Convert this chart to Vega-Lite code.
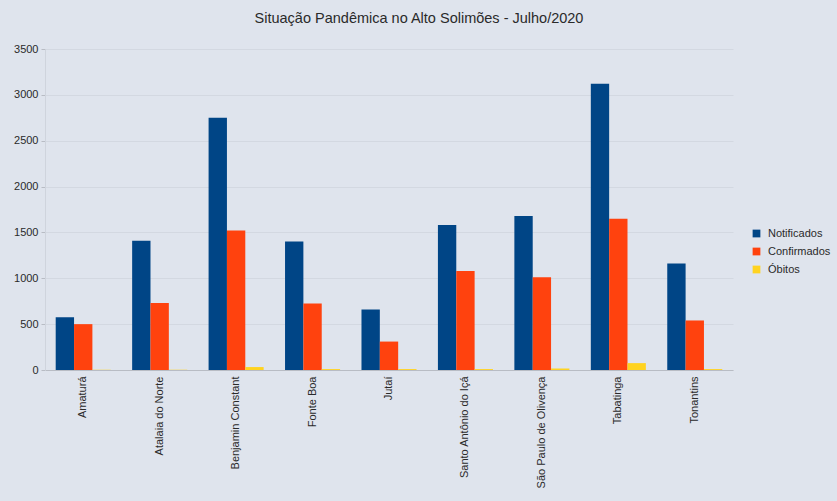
{
  "$schema": "https://vega.github.io/schema/vega-lite/v6.json",
  "autosize": "none",
  "width": 688,
  "height": 321,
  "padding": {"left": 45, "top": 49, "right": 104, "bottom": 131},
  "background": "#dfe4ed",
  "config": {
    "view": {"stroke": null},
    "font": "Liberation Sans",
    "axis": {"labelFont": "Liberation Sans", "labelColor": "#2a2a2a", "labelFontSize": 11}
  },
  "title": {
    "text": "Situação Pandêmica no Alto Solimões - Julho/2020",
    "fontSize": 14.5,
    "fontWeight": "normal",
    "color": "#2a2a2a",
    "font": "Liberation Sans",
    "anchor": "middle",
    "dx": 30,
    "offset": 17
  },
  "data": {
    "values": [
      {"municipio": "Amaturá", "serie": "Notificados", "valor": 575},
      {"municipio": "Amaturá", "serie": "Confirmados", "valor": 500},
      {"municipio": "Amaturá", "serie": "Óbitos", "valor": 3},
      {"municipio": "Atalaia do Norte", "serie": "Notificados", "valor": 1410},
      {"municipio": "Atalaia do Norte", "serie": "Confirmados", "valor": 730},
      {"municipio": "Atalaia do Norte", "serie": "Óbitos", "valor": 3},
      {"municipio": "Benjamin Constant", "serie": "Notificados", "valor": 2750},
      {"municipio": "Benjamin Constant", "serie": "Confirmados", "valor": 1520},
      {"municipio": "Benjamin Constant", "serie": "Óbitos", "valor": 32},
      {"municipio": "Fonte Boa", "serie": "Notificados", "valor": 1400},
      {"municipio": "Fonte Boa", "serie": "Confirmados", "valor": 725},
      {"municipio": "Fonte Boa", "serie": "Óbitos", "valor": 10},
      {"municipio": "Jutaí", "serie": "Notificados", "valor": 660},
      {"municipio": "Jutaí", "serie": "Confirmados", "valor": 310},
      {"municipio": "Jutaí", "serie": "Óbitos", "valor": 10},
      {"municipio": "Santo Antônio do Içá", "serie": "Notificados", "valor": 1580},
      {"municipio": "Santo Antônio do Içá", "serie": "Confirmados", "valor": 1080},
      {"municipio": "Santo Antônio do Içá", "serie": "Óbitos", "valor": 10},
      {"municipio": "São Paulo de Olivença", "serie": "Notificados", "valor": 1680},
      {"municipio": "São Paulo de Olivença", "serie": "Confirmados", "valor": 1010},
      {"municipio": "São Paulo de Olivença", "serie": "Óbitos", "valor": 15},
      {"municipio": "Tabatinga", "serie": "Notificados", "valor": 3120},
      {"municipio": "Tabatinga", "serie": "Confirmados", "valor": 1650},
      {"municipio": "Tabatinga", "serie": "Óbitos", "valor": 75},
      {"municipio": "Tonantins", "serie": "Notificados", "valor": 1160},
      {"municipio": "Tonantins", "serie": "Confirmados", "valor": 540},
      {"municipio": "Tonantins", "serie": "Óbitos", "valor": 10}
    ]
  },
  "mark": {"type": "bar"},
  "encoding": {
    "x": {
      "field": "municipio",
      "type": "nominal",
      "sort": null,
      "title": null,
      "scale": {"paddingInner": 0.28, "paddingOuter": 0.14},
      "axis": {
        "labelAngle": -90,
        "labelAlign": "right",
        "labelBaseline": "middle",
        "labelPadding": 6,
        "ticks": false,
        "domainColor": "#b8bcc4",
        "labelLimit": 200
      }
    },
    "xOffset": {"field": "serie", "type": "nominal", "sort": ["Notificados", "Confirmados", "Óbitos"], "scale": {"paddingInner": 0, "paddingOuter": 0}},
    "y": {
      "field": "valor",
      "type": "quantitative",
      "title": null,
      "scale": {"domain": [0, 3500], "nice": false},
      "axis": {
        "values": [0, 500, 1000, 1500, 2000, 2500, 3000, 3500],
        "format": "d",
        "gridColor": "#cfd4dd",
        "gridWidth": 0.8,
        "domainColor": "#cfd4dd",
        "tickColor": "#b8bcc4",
        "tickSize": 4,
        "labelPadding": 3
      }
    },
    "color": {
      "field": "serie",
      "type": "nominal",
      "sort": ["Notificados", "Confirmados", "Óbitos"],
      "scale": {"domain": ["Notificados", "Confirmados", "Óbitos"], "range": ["#004586", "#ff420e", "#ffd320"]},
      "legend": {
        "title": null,
        "orient": "none",
        "legendX": 706,
        "legendY": 179,
        "symbolType": "square",
        "symbolSize": 60,
        "symbolStrokeWidth": 0,
        "labelFontSize": 11,
        "labelColor": "#2a2a2a",
        "labelFont": "Liberation Sans",
        "rowPadding": 6,
        "labelOffset": 6
      }
    }
  }
}
